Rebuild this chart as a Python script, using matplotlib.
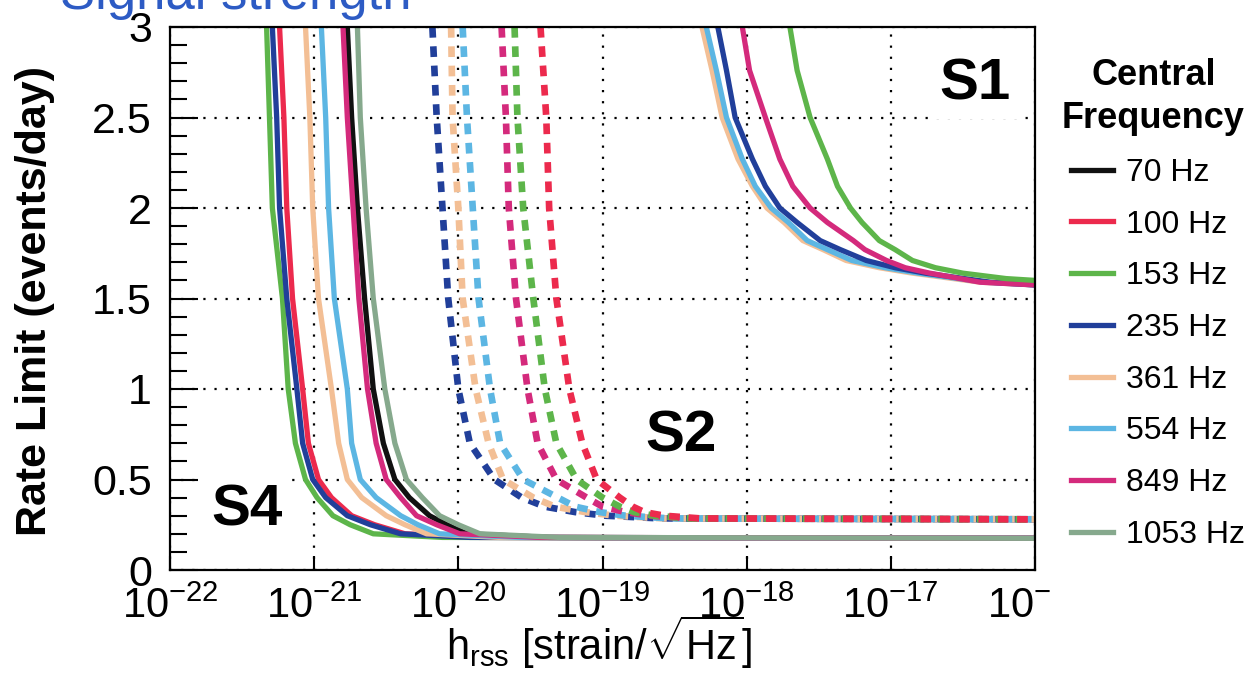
import numpy as np
import matplotlib.pyplot as plt
from matplotlib.ticker import MultipleLocator, LogLocator, NullFormatter
from matplotlib.transforms import Bbox, TransformedBbox

plt.rcParams['font.family'] = ['Liberation Sans', 'DejaVu Sans']
plt.rcParams['mathtext.fontset'] = 'custom'
plt.rcParams['mathtext.rm'] = 'Liberation Sans'
plt.rcParams['mathtext.it'] = 'Liberation Sans:italic'
plt.rcParams['mathtext.bf'] = 'Liberation Sans:bold'

# legend entries and colours
freqs = ['70 Hz', '100 Hz', '153 Hz', '235 Hz', '361 Hz', '554 Hz', '849 Hz', '1053 Hz']
colors = ['#111111', '#ec2a4d', '#5db54a', '#213f9a', '#f3bf95', '#5cb6e3', '#d42a7c', '#86a98d']

# S4 run (solid, left) - log10(h_rss) read at these rate levels
s4_rate = [3.0, 2.5, 2.0, 1.5, 1.0, 0.7, 0.5, 0.4, 0.3, 0.25, 0.2, 0.18, 0.175]
s4_70 = [-20.77, -20.74, -20.70, -20.65, -20.59, -20.52, -20.44, -20.34, -20.20, -20.08, -19.94, -19.37, -16.0]
s4_100 = [-21.24, -21.21, -21.19, -21.15, -21.08, -21.04, -20.97, -20.88, -20.74, -20.58, -20.37, -19.85, -16.0]
s4_153 = [-21.33, -21.31, -21.29, -21.22, -21.18, -21.13, -21.06, -20.98, -20.87, -20.75, -20.59, -20.11, -16.0]
s4_235 = [-21.29, -21.26, -21.24, -21.19, -21.12, -21.08, -21.01, -20.92, -20.77, -20.61, -20.40, -19.92, -16.0]
s4_361 = [-21.06, -21.03, -21.01, -20.97, -20.88, -20.83, -20.77, -20.67, -20.50, -20.37, -20.22, -19.71, -16.0]
s4_554 = [-20.95, -20.92, -20.90, -20.86, -20.77, -20.74, -20.68, -20.57, -20.40, -20.28, -20.13, -19.57, -16.0]
s4_849 = [-20.80, -20.77, -20.73, -20.69, -20.63, -20.57, -20.50, -20.40, -20.29, -20.15, -19.99, -19.43, -16.0]
s4_1053 = [-20.70, -20.68, -20.64, -20.59, -20.51, -20.44, -20.36, -20.25, -20.13, -20.00, -19.85, -19.30, -16.0]

# S2 run (dashed, middle)
s2_rate = [3.0, 2.5, 2.0, 1.5, 1.0, 0.7, 0.5, 0.4, 0.35, 0.32, 0.3, 0.285, 0.28]
s2_100 = [-19.43, -19.39, -19.37, -19.32, -19.23, -19.14, -19.04, -18.88, -18.79, -18.71, -18.57, -18.32, -16.0]
s2_153 = [-19.61, -19.59, -19.55, -19.48, -19.40, -19.32, -19.18, -19.00, -18.88, -18.78, -18.64, -18.39, -16.0]
s2_235 = [-20.18, -20.15, -20.11, -20.07, -20.00, -19.92, -19.75, -19.56, -19.40, -19.19, -18.98, -18.60, -16.0]
s2_361 = [-20.05, -20.04, -20.00, -19.97, -19.88, -19.79, -19.69, -19.48, -19.33, -19.12, -18.91, -18.57, -16.0]
s2_554 = [-19.97, -19.94, -19.90, -19.86, -19.78, -19.71, -19.55, -19.31, -19.19, -19.02, -18.84, -18.53, -16.0]
s2_849 = [-19.70, -19.67, -19.65, -19.60, -19.52, -19.45, -19.32, -19.11, -19.00, -18.84, -18.67, -18.39, -16.0]

# S1 run (solid, upper right)
s1_rate = [3.0, 2.76, 2.5, 2.27, 2.12, 2.0, 1.92, 1.82, 1.77, 1.71, 1.67, 1.64, 1.59, 1.575]
s1_rate_153 = [3.0, 2.76, 2.5, 2.27, 2.12, 2.0, 1.92, 1.82, 1.77, 1.71, 1.67, 1.64, 1.61, 1.60]
s1_153 = [-17.70, -17.65, -17.56, -17.44, -17.37, -17.28, -17.20, -17.08, -16.97, -16.85, -16.69, -16.50, -16.20, -16.0]
s1_235 = [-18.20, -18.14, -18.08, -17.96, -17.87, -17.77, -17.65, -17.49, -17.35, -17.17, -16.97, -16.76, -16.31, -16.0]
s1_361 = [-18.31, -18.24, -18.17, -18.06, -17.96, -17.86, -17.74, -17.61, -17.47, -17.31, -17.08, -16.85, -16.38, -16.0]
s1_554 = [-18.28, -18.21, -18.14, -18.03, -17.94, -17.83, -17.71, -17.58, -17.44, -17.27, -17.04, -16.81, -16.35, -16.0]
s1_849 = [-18.03, -17.98, -17.87, -17.77, -17.68, -17.56, -17.44, -17.26, -17.18, -17.03, -16.90, -16.73, -16.38, -16.0]

x_ticks = [1e-22, 1e-21, 1e-20, 1e-19, 1e-18, 1e-17, 1e-16]
x_tick_labels = [r'$10^{-22}$', r'$10^{-21}$', r'$10^{-20}$', r'$10^{-19}$',
                 r'$10^{-18}$', r'$10^{-17}$', r'$10^{-16}$']
y_ticks = [0, 0.5, 1, 1.5, 2, 2.5, 3]
y_tick_labels = ['0', '0.5', '1', '1.5', '2', '2.5', '3']

fig = plt.figure(figsize=(12.51, 6.77), dpi=100)
ax = fig.add_axes([170 / 1251, 1 - 570 / 677, 865 / 1251, 543 / 677])

s4 = [s4_70, s4_100, s4_153, s4_235, s4_361, s4_554, s4_849, s4_1053]
s4_lines = []
for logh, c, f in zip(s4, colors, freqs):
    ln, = ax.plot(10.0 ** np.array(logh), s4_rate, color=c, lw=3.8, label=f)
    s4_lines.append(ln)

s2 = [(s2_235, 3), (s2_361, 4), (s2_554, 5), (s2_849, 6), (s2_153, 2), (s2_100, 1)]
for logh, i in s2:
    ax.plot(10.0 ** np.array(logh), s2_rate, color=colors[i], lw=4.8,
            linestyle=(0, (1.6, 1.3)))

s1 = [(s1_361, s1_rate, 4), (s1_554, s1_rate, 5), (s1_235, s1_rate, 3),
      (s1_849, s1_rate, 6), (s1_153, s1_rate_153, 2)]
for logh, r, i in s1:
    ax.plot(10.0 ** np.array(logh), r, color=colors[i], lw=3.8)

ax.set_xscale('log')
ax.set_xlim(1e-22, 1e-16)
ax.set_ylim(0, 3)
ax.set_xticks(x_ticks, labels=x_tick_labels)
ax.xaxis.set_minor_locator(LogLocator(base=10, subs=np.arange(2, 10)))
ax.xaxis.set_minor_formatter(NullFormatter())
ax.set_yticks(y_ticks, labels=y_tick_labels)
ax.yaxis.set_minor_locator(MultipleLocator(0.1))

ax.tick_params(axis='y', which='major', direction='in', length=20, width=1.5, labelsize=31, pad=13)
ax.tick_params(axis='y', which='minor', direction='in', length=12, width=1.5)
ax.tick_params(axis='x', which='major', direction='in', length=10, width=1.5, labelsize=30, pad=12)
ax.tick_params(axis='x', which='minor', direction='in', length=5, width=1.2)
for sp in ax.spines.values():
    sp.set_linewidth(1.6)

ax.grid(True, which='major', color='black', linestyle=(0, (1, 4)), linewidth=1.6)

# last tick label is cut off in the original
last = ax.get_xticklabels()[-1]
last.set_clip_box(TransformedBbox(Bbox([[0, 0], [1052 / 1251, 1]]), fig.transFigure))
last.set_clip_on(True)

ax.set_ylabel('Rate Limit (events/day)', fontsize=31, fontweight='bold')
ax.yaxis.set_label_coords(-0.133, 0.495)
ax.set_xlabel(r'$\mathrm{h}_{\mathrm{rss}}$ [strain/$\sqrt{\mathrm{Hz}}$]', fontsize=30)
ax.xaxis.label.set_va('baseline')
ax.xaxis.set_label_coords(0.496, -0.165)

box = dict(facecolor='white', edgecolor='none', pad=6)
ax.text(0.931, 0.895, 'S1', transform=ax.transAxes, fontsize=42, fontweight='bold',
        ha='center', va='center', bbox=box)
ax.text(0.591, 0.245, 'S2', transform=ax.transAxes, fontsize=42, fontweight='bold',
        ha='center', va='center', bbox=box)
ax.text(0.089, 0.109, 'S4', transform=ax.transAxes, fontsize=42, fontweight='bold',
        ha='center', va='center', bbox=box)

leg = ax.legend(handles=s4_lines, labels=freqs, title='Central\nFrequency',
                loc='upper left', bbox_to_anchor=(1062 / 1251, 1 - 58 / 677),
                bbox_transform=fig.transFigure, frameon=False, fontsize=23,
                title_fontproperties={'weight': 'bold', 'size': 26},
                handlelength=1.32, handletextpad=0.4, labelspacing=0.68,
                borderpad=0, borderaxespad=0, alignment='right')
leg.get_title().set_multialignment('center')
leg.get_title().set_linespacing(1.3)

fig.text(60 / 1251, 1 - 9 / 677, 'Signal strength', fontsize=38, color='#2d5bc4',
         ha='left', va='baseline')

fig.savefig('out.png', dpi=100)
